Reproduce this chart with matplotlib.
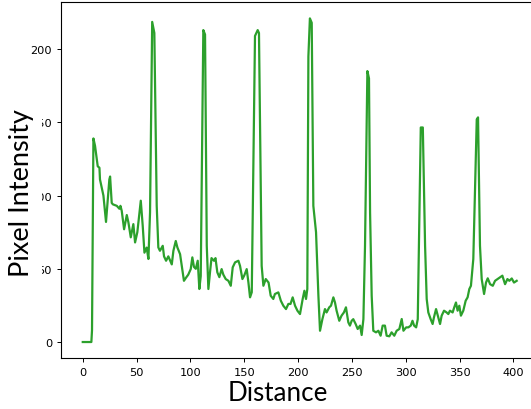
import matplotlib
matplotlib.use("Agg")
import matplotlib.pyplot as plt

distance = [0, 8, 8.6, 9.9, 11.4, 13.9, 15.5, 16, 19.2, 21.6, 24.7, 25.4, 26.9, 28, 31.6, 34, 35, 36.2,
            38.4, 40.9, 42.4, 44.6, 47, 48.6, 50.7, 53.9, 55.7, 57.3, 59.4, 61, 62.5, 64.5, 66.5, 68.7,
            70.2, 71.7, 74.3, 75.5, 77.4, 79.5, 81, 82.7, 84.2, 86.4, 87.9, 90.4, 92, 94, 96, 98, 100.3,
            101.8, 103.3, 105, 106.8, 108.3, 109.6, 112, 113.6, 115.2, 116.7, 118.2, 119.6, 121.9, 123.3,
            125, 126.9, 129, 130.6, 132.8, 135.3, 137.5, 139.3, 141.5, 144.6, 146.1, 148.3, 150, 152.3,
            153.9, 155.4, 157, 160, 162.5, 163.7, 166.2, 167.8, 170, 172.6, 174.6, 177, 178.5, 181.7, 184,
            186.3, 188.8, 191, 193, 195, 197.2, 199.4, 201.8, 204.3, 205.9, 207.4, 208.6, 209.6, 211,
            212.7, 214.2, 216.7, 218.9, 220.4, 222.6, 225, 226.5, 229, 230.6, 232.8, 234.3, 235.8, 238.3,
            240.4, 242.6, 244.5, 246.7, 248.2, 249.8, 251.3, 253.5, 255.4, 257.6, 259.1, 260.7, 262.2,
            264.4, 265.9, 266.9, 268.4, 269.9, 272.4, 274.6, 276.7, 278.6, 280.7, 282.3, 284.8, 286.9,
            289.4, 291.6, 294.1, 296.3, 297.9, 300.4, 302.5, 304.7, 306.3, 307.8, 309.7, 311.2, 314,
            315.9, 318, 319.5, 321, 323.2, 325, 326.2, 328.2, 329.8, 331.9, 333.4, 335.6, 338, 339.6,
            341.1, 343.6, 345.1, 346.7, 348.2, 349.8, 351.3, 353.5, 355.7, 357.5, 359.1, 360.6, 362.8,
            366, 367.2, 369, 370.6, 372.8, 374.6, 376.2, 378.4, 380.9, 383, 386.1, 389.8, 392.3, 394.5,
            396.3, 398.5, 400.6, 403.1]

intensity = [0, 0, 8, 139, 134, 120, 119, 111, 100, 82, 111, 113, 95, 94, 93, 91, 93, 89.6,
             77, 86.7, 81.7, 71.5, 80.5, 68, 75, 96.5, 79.4, 61, 64.5, 56.7, 88.5, 218.6, 211, 93,
             64.6, 62.3, 65.7, 58.5, 55.5, 58.5, 56, 53, 62.3, 69, 64.6, 60, 52, 41.8, 44, 46, 49.8,
             57.8, 51.3, 50, 55.5, 36.2, 45, 213, 210, 65.7, 36.2, 47.6, 57.3, 55.5, 57.3,
             47.6, 44.3, 49.8, 46, 43, 41.8, 38.4, 51, 54.4, 55.5, 52, 43, 45.4, 49.8,
             40.6, 30.5, 34, 209, 213, 211, 52, 38.4, 43, 40.6, 31.6, 29.4, 32.8, 33.9, 28.2,
             24.8, 22.5, 26, 26, 30.5, 24.8, 21.4, 19.1, 29.4, 35, 29.4, 36.2, 195, 221,
             218, 93, 75, 31.6, 7.7, 15.6, 22.5, 20.2, 23.7, 24.8, 30.5, 27, 21.4, 14.5,
             18, 20.2, 23.7, 13.4, 11.2, 14.5, 15.6, 12.3, 8.9, 11.2, 4.8, 15.6, 65.7,
             185, 180, 88.5, 31.6, 7.7, 6.6, 7.7, 4.3, 11.2, 11.2, 4.3, 3.9, 6.6,
             4.3, 7.7, 8.9, 15.7, 7.7, 10, 10, 11.2, 14.5, 11.2, 10, 15.6, 146.5,
             146.5, 65.7, 29.4, 20.2, 15.6, 12.3, 16.7, 22.5, 18, 12.3, 18, 21.4, 20.2, 19.1,
             21.4, 20.2, 23.7, 27, 21.4, 24.8, 18, 21.4, 28.2, 30.5, 36.2, 38.4, 56.7,
             152, 153.4, 65.7, 43, 32.8, 40.6, 43.5, 39.5, 38.4, 41.8, 43.4, 45.3, 39.5, 43,
             41.8, 43.4, 40.6, 41.8]

xticks = [0, 50, 100, 150, 200, 250, 300, 350, 400]
yticks = [0, 50, 100, 150, 200]

fig = plt.figure(figsize=(5.31, 4.10), dpi=100)
ax = fig.add_axes([0.1149, 0.1239, 0.8991, 0.8683])
ax.plot(distance, intensity, color="#2ca02c", linewidth=1.6)
ax.set_xlim(-20.2, 423.3)
ax.set_ylim(-11.05, 232.05)
ax.set_xticks(xticks)
ax.set_yticks(yticks)
ax.tick_params(labelsize=8.2, length=2.9, width=0.7, pad=3.5)
for s in ax.spines.values():
    s.set_linewidth(0.8)

ax.set_xlabel("Distance", fontsize=18.7, family="Lato")
ax.set_ylabel("Pixel Intensity", fontsize=19.5, family="Lato",
              bbox=dict(facecolor="white", edgecolor="none", pad=5.9))
ax.xaxis.set_label_coords(0.454, -0.062)
ax.yaxis.set_label_coords(-0.057, 0.466)

fig.savefig("out.png", dpi=100)
